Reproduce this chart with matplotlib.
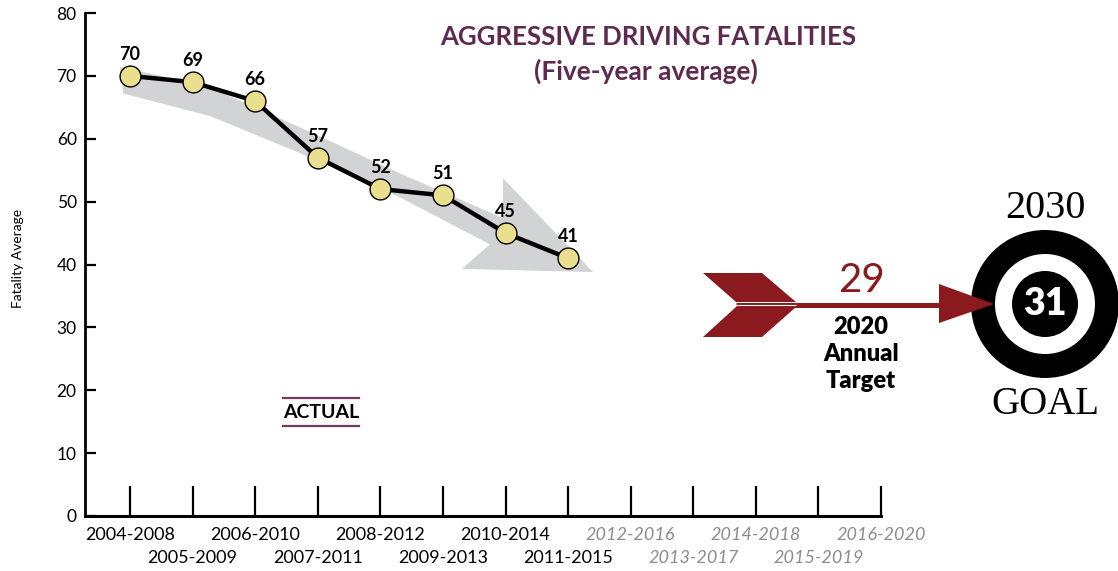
import matplotlib
matplotlib.use("Agg")
import matplotlib.pyplot as plt
from matplotlib.patches import Polygon, Circle

# ---------------- data ----------------
periods = ['2004-2008', '2005-2009', '2006-2010', '2007-2011', '2008-2012',
           '2009-2013', '2010-2014', '2011-2015', '2012-2016', '2013-2017',
           '2014-2018', '2015-2019', '2016-2020']
actual = [70, 69, 66, 57, 52, 51, 45, 41]
future_start = 8            # first projected period
gray_ticks = [8, 9]         # tick marks drawn in grey
target_2020 = 29
goal_2030 = 31
y_ticks = [0, 10, 20, 30, 40, 50, 60, 70, 80]

# decorative trend arrow (x index, value units)
trend_arrow = [(-0.16, 71.4), (1.20, 68.5), (2.72, 61.8), (4.31, 54.5), (5.96, 47.4),
               (5.96, 53.7), (7.40, 38.8), (5.30, 39.3), (5.75, 43.2),
               (4.31, 50.7), (2.72, 57.7), (1.28, 63.6), (-0.11, 67.2)]

FONT = ['Lato', 'DejaVu Sans']
plt.rcParams['font.family'] = FONT

W, H = 1118, 571
fig = plt.figure(figsize=(W / 100, H / 100), dpi=100)

# main axes: y=0 at px 516, y=80 at px 13, x from px 85 to 881
ax_left, ax_right, ax_top, ax_bottom = 85, 881, 13, 516
ax = fig.add_axes([ax_left / W, (H - ax_bottom) / H, (ax_right - ax_left) / W,
                   (ax_bottom - ax_top) / H])
ax.set_xlim(-0.72, 12)
ax.set_ylim(0, 80)
for s in ['top', 'right']:
    ax.spines[s].set_visible(False)
ax.spines['left'].set_linewidth(2.0)
ax.spines['bottom'].set_linewidth(2.2)
ax.patch.set_alpha(0)

ax.set_yticks(y_ticks)
ax.set_yticklabels([str(v) for v in y_ticks], fontsize=12.5)
ax.tick_params(axis='y', direction='in', length=8, width=1.6, pad=6)

ax.set_xticks(range(len(periods)))
ax.set_xticklabels([])
ax.tick_params(axis='x', direction='in', length=21.5, width=1.6)
for i, t in enumerate(ax.xaxis.get_major_ticks()):
    if i in gray_ticks:
        t.tick1line.set_color('#8c8c8c')

for i, lab in enumerate(periods):
    fut = i >= future_start
    off = -14 if i % 2 == 0 else -30
    ax.annotate(lab, xy=(i, 0), xytext=(0, off), textcoords='offset points',
                ha='center', va='center', fontsize=13,
                color='#8c8c8c' if fut else 'black',
                style='italic' if fut else 'normal',
                annotation_clip=False)

# trend arrow
ax.add_patch(Polygon(trend_arrow, closed=True, facecolor='#d1d3d4',
                     edgecolor='none', zorder=1))

xs = list(range(len(actual)))
ax.plot(xs, actual, color='black', lw=3.2, zorder=3, solid_joinstyle='round')
ax.plot(xs, actual, 'o', ms=15, mfc='#e9df8e', mec='black', mew=1.0, zorder=4)
for x, v in zip(xs, actual):
    ax.annotate(str(v), xy=(x, v), xytext=(0, 15.5), textcoords='offset points',
                ha='center', va='center', fontsize=13, fontweight='bold',
                color='black', zorder=5)

# ---------------- decoration overlay in pixel units ----------------
deco = fig.add_axes([0, 0, 1, 1])
deco.set_xlim(0, W)
deco.set_ylim(H, 0)
deco.axis('off')
deco.patch.set_alpha(0)

PURPLE = '#5f2a4f'
RED = '#8b1a1e'

deco.text(648, 37, 'AGGRESSIVE DRIVING FATALITIES', ha='center', va='center',
          fontsize=18.5, fontweight='bold', color=PURPLE)
deco.text(646, 71, '(Five-year average)', ha='center', va='center',
          fontsize=19, fontweight='bold', color=PURPLE)

deco.text(18, 258, 'Fatality Average', rotation=90, ha='center', va='center',
          fontsize=10, color='black')

deco.text(321, 413, 'ACTUAL', ha='center', va='center', fontsize=14,
          fontweight='bold', color='black')
deco.plot([283, 359], [398, 398], color='#6e3a60', lw=1.6)
deco.plot([283, 359], [426, 426], color='#6e3a60', lw=1.6)

# red arrow
deco.add_patch(Polygon([(703, 273), (762, 273), (796, 302), (736, 302)],
                       closed=True, facecolor=RED, edgecolor='none'))
deco.add_patch(Polygon([(736, 307), (796, 307), (762, 337), (703, 337)],
                       closed=True, facecolor=RED, edgecolor='none'))
deco.plot([736, 945], [304.5, 304.5], color=RED, lw=3.6, solid_capstyle='butt')
deco.plot([736, 796], [304.5, 304.5], color='white', lw=0.8, solid_capstyle='butt')

# target
cx, cy = 1045, 304
deco.add_patch(Circle((cx, cy), 74, facecolor='black', edgecolor='none', zorder=2))
deco.add_patch(Circle((cx, cy), 50, facecolor='white', edgecolor='none', zorder=3))
deco.add_patch(Circle((cx, cy), 33, facecolor='black', edgecolor='none', zorder=4))
deco.text(cx, cy, str(goal_2030), ha='center', va='center', fontsize=27,
          fontweight='heavy', color='white', zorder=5)
deco.add_patch(Polygon([(939, 284), (939, 323), (994, 304)], closed=True,
                       facecolor=RED, edgecolor='none', zorder=6))

deco.text(861, 281, str(target_2020), ha='center', va='center', fontsize=29,
          color=RED)
deco.text(861, 327, '2020', ha='center', va='center', fontsize=17,
          fontweight='heavy', color='black')
deco.text(861, 354, 'Annual', ha='center', va='center', fontsize=17,
          fontweight='heavy', color='black')
deco.text(861, 381, 'Target', ha='center', va='center', fontsize=17,
          fontweight='heavy', color='black')

deco.text(cx, 208, '2030', ha='center', va='center', fontsize=29,
          family=['Liberation Serif', 'DejaVu Serif'], color='black')
deco.text(cx, 405, 'GOAL', ha='center', va='center', fontsize=28,
          family=['Liberation Serif', 'DejaVu Serif'], color='black')

fig.savefig('out.png', dpi=100)
